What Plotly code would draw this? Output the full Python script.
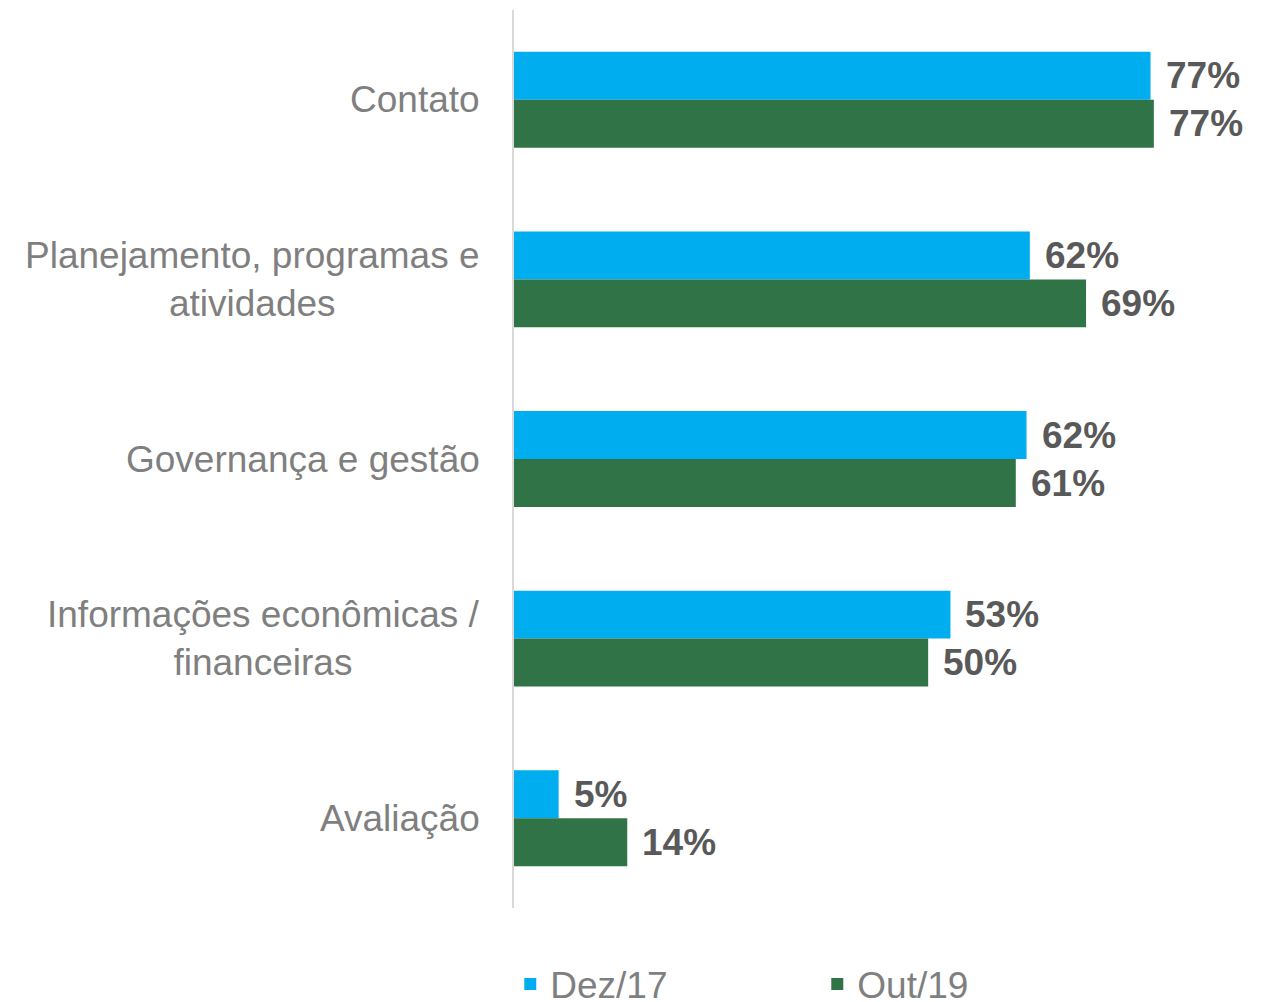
import plotly.graph_objects as go

categories = ["Contato", "Planejamento, programas e<br>atividades", "Governança e gestão",
              "Informações econômicas /<br>financeiras", "Avaliação"]
dez17 = [77.0, 62.4, 62.0, 52.8, 5.4]
out19 = [77.4, 69.2, 60.7, 50.1, 13.7]
series_names = ["Dez/17", "Out/19"]
colors = ["#00AEEF", "#307346"]

FONT = "Liberation Sans, Arial"

fig = go.Figure()
for name, vals, col in zip(series_names, [dez17, out19], colors):
    fig.add_trace(go.Bar(y=categories, x=vals, name=name, orientation="h",
                         marker=dict(color=col, line=dict(width=0)), hoverinfo="x+name"))

annotations = []
for vals, ysh in [(dez17, 24), (out19, -24)]:
    for c, v in zip(categories, vals):
        annotations.append(dict(x=v, y=c, xref="x", yref="y", text=f"{v:.0f}%",
                                showarrow=False, xanchor="left", xshift=13, yshift=ysh,
                                font=dict(family=FONT, size=37, color="#595959", weight="bold")))
for c in categories:
    annotations.append(dict(x=0, y=c, xref="paper", yref="y", text=c, showarrow=False,
                            xanchor="right", xshift=-32, align="center",
                            font=dict(family=FONT, size=37, color="#7f7f7f")))

fig.update_layout(
    width=1257, height=994,
    margin=dict(l=506, r=7, t=2, b=94, autoexpand=False),
    plot_bgcolor="white", paper_bgcolor="white",
    barmode="group", bargap=0.466, bargroupgap=0,
    showlegend=True,
    legend=dict(orientation="h", x=-0.005, xref="paper", y=-0.085, yref="paper",
                xanchor="left", yanchor="middle", entrywidth=262, entrywidthmode="pixels",
                font=dict(family=FONT, size=37, color="#7f7f7f"),
                tracegroupgap=0, itemclick=False),
    annotations=annotations,
    xaxis=dict(range=[0, 90], visible=False, fixedrange=True),
    yaxis=dict(autorange="reversed", showticklabels=False, showline=True, linecolor="#d9d9d9",
               linewidth=2, showgrid=False, zeroline=False, ticks="", fixedrange=True),
)
fig.write_html("out.html")
